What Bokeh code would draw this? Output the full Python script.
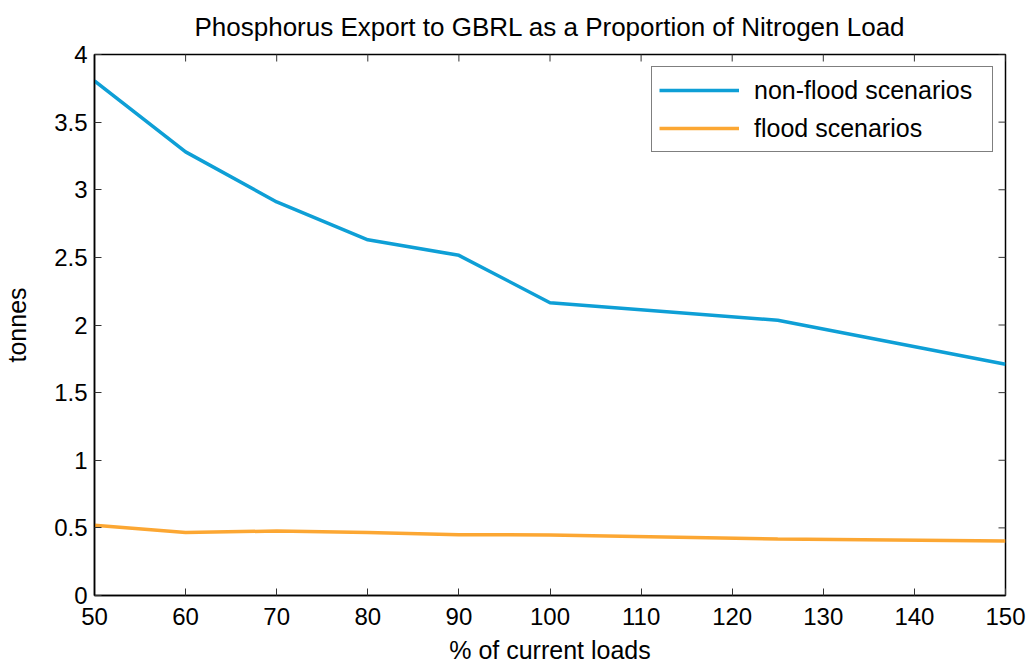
import math
from bokeh.plotting import figure
from bokeh.models import Range1d, Legend, LegendItem, FixedTicker
from bokeh.embed import file_html
from bokeh.resources import INLINE

# data
load_pct = [50, 60, 70, 80, 90, 100, 125, 150]
non_flood = [3.805, 3.28, 2.91, 2.63, 2.515, 2.165, 2.035, 1.71]
flood = [0.52, 0.465, 0.477, 0.465, 0.45, 0.447, 0.418, 0.403]
x_ticks = [50, 60, 70, 80, 90, 100, 110, 120, 130, 140, 150]
y_ticks = [0, 0.5, 1, 1.5, 2, 2.5, 3, 3.5, 4]
y_tick_labels = ["0", "0.5", "1", "1.5", "2", "2.5", "3", "3.5", "4"]
series_names = ["non-flood scenarios", "flood scenarios"]

FONT = "Liberation Sans"
BLUE = "#0E9FD6"
ORANGE = "#FCA733"

x_min, x_max = x_ticks[0], x_ticks[-1]
y_min, y_max = y_ticks[0], y_ticks[-1]

p = figure(width=1033, height=666, output_backend="svg", toolbar_location=None,
           x_range=Range1d(x_min, x_max), y_range=Range1d(y_min, y_max),
           min_border_left=93, min_border_right=28, min_border_top=53, min_border_bottom=67,
           x_axis_label="% of current loads", y_axis_label="tonnes")
p.title.text = "Phosphorus Export to GBRL as a Proportion of Nitrogen Load"
p.title.text_font = FONT
p.title.text_font_size = "26px"
p.title.text_font_style = "normal"
p.title.text_color = "black"
p.title.align = "center"
p.title.vertical_align = "top"
p.title.text_line_height = 0.9
p.title.standoff = 22

p.grid.visible = False
p.outline_line_color = "black"
p.outline_line_width = 1.5
p.background_fill_color = "white"
p.border_fill_color = "white"

for ax in (p.xaxis[0], p.yaxis[0]):
    ax.major_tick_in = 7
    ax.major_tick_out = 0
    ax.minor_tick_line_color = None
    ax.axis_line_color = "black"
    ax.axis_line_width = 1.5
    ax.major_tick_line_color = "#333333"
    ax.major_tick_line_width = 1
    ax.major_label_text_font = FONT
    ax.major_label_text_font_size = "24px"
    ax.major_label_text_color = "black"
    ax.axis_label_text_font = FONT
    ax.axis_label_text_font_size = "25px"
    ax.axis_label_text_font_style = "normal"
    ax.axis_label_text_color = "black"

p.xaxis[0].ticker = FixedTicker(ticks=x_ticks)
p.yaxis[0].ticker = FixedTicker(ticks=y_ticks)
p.xaxis[0].major_label_overrides = {t: str(t) for t in x_ticks}
p.yaxis[0].major_label_overrides = dict(zip(y_ticks, y_tick_labels))
p.xaxis[0].major_label_standoff = 12
p.yaxis[0].major_label_standoff = 7
p.xaxis[0].axis_label_standoff = 8
p.yaxis[0].axis_label_standoff = 20

# inward ticks on the top and right edges of the box (clipped to the frame)
p.scatter(x_ticks, [y_max] * len(x_ticks), marker="dash", angle=math.pi / 2, size=14,
          line_color="#333333", line_width=1)
p.scatter([x_max] * len(y_ticks), y_ticks, marker="dash", angle=0, size=14,
          line_color="#333333", line_width=1)

r1 = p.line(load_pct, non_flood, line_color=BLUE, line_width=3.5)
r2 = p.line(load_pct, flood, line_color=ORANGE, line_width=3.5)

legend = Legend(items=[LegendItem(label=series_names[0], renderers=[r1]),
                       LegendItem(label=series_names[1], renderers=[r2])],
                location="top_right")
legend.margin = 12
legend.padding = 7
legend.spacing = 6
legend.glyph_width = 80
legend.glyph_height = 32
legend.label_height = 32
legend.label_width = 231
legend.label_standoff = 15
legend.label_text_font = FONT
legend.label_text_font_size = "25px"
legend.label_text_color = "black"
legend.border_line_color = "black"
legend.border_line_width = 1.2
legend.background_fill_color = "white"
legend.background_fill_alpha = 1
p.add_layout(legend)

open("out.html", "w").write(file_html(p, INLINE))
